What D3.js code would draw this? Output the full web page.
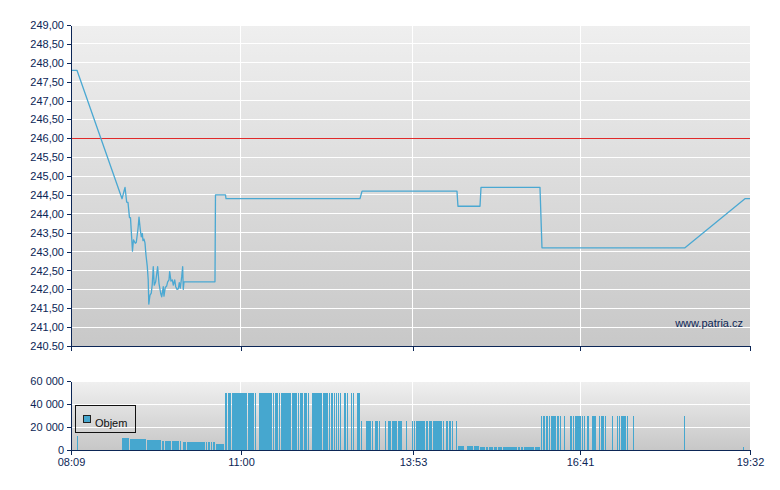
<!DOCTYPE html>
<html><head><meta charset="utf-8">
<script src="https://cdn.jsdelivr.net/npm/d3@7"></script>
<style>body{margin:0;background:#fff}svg{display:block}</style>
</head><body><svg id="c" width="780" height="490"></svg>
<script>
// ---- data ----
const priceTimes = ["08:09:00","08:15:00","09:00:20","09:03:20","09:05:00","09:06:20","09:07:50","09:08:50","09:10:50","09:11:50",
  "09:13:40","09:14:40","09:16:25","09:17:25","09:18:45","09:19:45","09:20:45","09:21:25","09:22:25","09:23:25",
  "09:24:25","09:25:45","09:26:40","09:27:15","09:28:30","09:29:45","09:30:45","09:31:45","09:32:45","09:34:10",
  "09:36:10","09:37:30","09:39:15","09:40:15","09:41:50","09:42:30","09:43:50","09:45:15","09:46:15","09:47:35",
  "09:48:15","09:49:35","09:50:55","09:51:55","09:53:20","09:54:20","09:55:40","09:56:55","09:57:55","09:58:55",
  "10:00:20","10:01:20","10:01:55","10:02:40","10:33:50","10:34:20","10:44:25","10:44:55","12:59:40","13:01:45",
  "14:37:15","14:38:15","15:00:25","15:01:25","16:00:45","16:02:45","18:26:35","19:26:55","19:32:00"];
const priceValues = [247.80,247.80,244.40,244.70,244.31,244.30,243.90,243.90,243.01,243.31,
  243.22,243.24,243.61,243.91,243.57,243.39,243.48,243.29,243.33,243.23,
  242.91,242.60,242.25,241.61,241.85,241.90,242.14,242.60,242.11,242.20,
  242.60,242.16,241.89,241.80,242.07,241.82,242.05,242.09,242.20,242.25,
  242.47,242.22,242.25,242.11,242.25,242.07,242.00,242.01,242.18,242.03,
  242.33,242.60,242.00,242.20,242.20,244.50,244.50,244.40,244.40,244.60,
  244.60,244.20,244.20,244.70,244.70,243.10,243.10,244.40,244.40];
const refPrice = 246.00;

const volTimes = ["08:15","08:16","09:00","09:08","09:25","09:41","09:44","09:51","09:59","10:01",
  "10:02","10:06","10:25","10:27","10:30","10:32","10:35","10:44","10:47","10:51",
  "11:07","11:14","11:16","11:18","11:32","11:34","11:38","11:40","11:51","11:57",
  "11:59","12:03","12:07","12:08","12:11","12:22","12:29","12:31","12:34","12:36",
  "12:38","12:40","12:42","12:44","12:47","12:49","12:51","12:53","12:55","12:57",
  "13:01","13:02","13:06","13:12","13:14","13:15","13:19","13:20","13:25","13:26",
  "13:28","13:32","13:38","13:43","13:46","13:47","13:52","13:54","13:56","14:06",
  "14:09","14:13","14:23","14:24","14:26","14:29","14:32","14:34","14:36","14:38",
  "14:45","14:47","14:54","15:00","15:06","15:09","15:14","15:19","15:24","15:39",
  "15:42","15:45","15:56","16:02","16:04","16:07","16:10","16:12","16:18","16:21",
  "16:23","16:25","16:27","16:31","16:34","16:36","16:43","16:45","16:46","16:48",
  "16:51","16:53","16:58","17:00","17:02","17:06","17:07","17:13","17:15","17:18",
  "17:20","17:22","17:28","17:30","17:34","17:36","18:26","18:27","19:25","19:26"];
const volValues = [12000,0,10400,9600,8700,8100,8100,8100,8100,0,
  7200,7200,7200,7200,7200,7200,5500,50000,50000,50000,
  50000,50000,0,50000,50000,50000,50000,50000,50000,50000,
  50000,50000,50000,0,50000,50000,50000,50000,50000,50000,
  50000,50000,0,50000,50000,0,50000,50000,0,50000,
  25500,0,25500,25500,0,25500,25500,0,25500,0,
  25500,25500,25500,0,25500,0,25500,25500,25500,25500,
  25500,25500,25500,0,25500,25500,25500,0,25500,3500,
  0,3500,3500,2800,2800,2800,2800,2800,2800,2800,
  2800,2800,2800,29700,29700,29700,29700,29700,29700,29700,
  0,29700,0,29700,29700,29700,29700,29700,0,29700,
  0,29700,0,29700,29700,29700,0,29700,0,29700,
  29700,29700,29700,0,29700,0,29700,0,2600,0];

const xTickLabels = ["08:09","11:00","13:53","16:41","19:32"];
const priceTicks = [240.5,241,241.5,242,242.5,243,243.5,244,244.5,245,245.5,246,246.5,247,247.5,248,248.5,249];
const priceTickLabels = ["240.50","241,00","241,50","242,00","242,50","243,00","243,50","244,00","244,50",
  "245,00","245,50","246,00","246,50","247,00","247,50","248,00","248,50","249,00"];
const volTicks = [0,20000,40000,60000];
const volTickLabels = ["0","20 000","40 000","60 000"];
const legendLabel = "Objem";
const watermark = "www.patria.cz";

// ---- drawing ----
const pHMS = d3.timeParse("%H:%M:%S"), pHM = d3.timeParse("%H:%M");
const parseT = s => s.length === 5 ? pHM(s) : pHMS(s);
const navy = "#0c2656", lineBlue = "#4aa8d2", barBlue = "#46a7cf";
const L = 71, R = 750;
const top1 = 25, bot1 = 346, top2 = 381, bot2 = 450;

const svg = d3.select("#c");
const x = d3.scaleTime().domain([parseT("08:09"), parseT("19:32")]).range([L, R]);
const y = d3.scaleLinear().domain([240.5, 249]).range([bot1, top1]);
const yv = d3.scaleLinear().domain([0, 60000]).range([bot2, top2]);
const xTicks = xTickLabels.map(parseT);

const defs = svg.append("defs");
function grad(id, c1, c2) {
  const g = defs.append("linearGradient").attr("id", id).attr("x1", 0).attr("y1", 0).attr("x2", 0).attr("y2", 1);
  g.append("stop").attr("offset", 0).attr("stop-color", c1);
  g.append("stop").attr("offset", 1).attr("stop-color", c2);
}
grad("g1", "#efefef", "#c8c8c8");
grad("g2", "#f0f0f0", "#c7c7c7");

function panel(yS, ticks, gid) {
  const [b, t] = yS.range();
  svg.append("rect").attr("x", L).attr("y", t).attr("width", R - L).attr("height", b - t).attr("fill", `url(#${gid})`);
  const g = svg.append("g").attr("stroke", "#fff").attr("stroke-width", 1).attr("shape-rendering", "crispEdges");
  g.selectAll(".h").data(ticks.slice(1)).join("line")
    .attr("x1", L).attr("x2", R).attr("y1", d => yS(d)).attr("y2", d => yS(d));
  g.selectAll(".v").data(xTicks.slice(1, -1)).join("line")
    .attr("x1", d => x(d)).attr("x2", d => x(d)).attr("y1", t).attr("y2", b);
}
panel(y, priceTicks, "g1");
panel(yv, volTicks, "g2");

// reference line
svg.append("line").attr("x1", L).attr("x2", R).attr("y1", y(refPrice)).attr("y2", y(refPrice))
  .attr("stroke", "#e02a2a").attr("stroke-width", 1).attr("shape-rendering", "crispEdges");

// price line
const pdata = priceTimes.map((t, i) => ({ t: parseT(t), v: priceValues[i] }));
svg.append("path").datum(pdata)
  .attr("d", d3.line().x(d => x(d.t)).y(d => y(d.v)))
  .attr("fill", "none").attr("stroke", lineBlue).attr("stroke-width", 1.3).attr("stroke-linejoin", "round");

// volume bars
const vdata = volTimes.map((t, i) => ({ t: parseT(t), v: volValues[i] }));
const bars = vdata.slice(0, -1).map((d, i) => ({ ...d, next: vdata[i + 1].t })).filter(d => d.v > 0);
svg.append("g").attr("shape-rendering", "crispEdges").selectAll("rect").data(bars).join("rect")
  .attr("x", d => x(d.t))
  .attr("width", d => Math.max(1, x(d.next) - x(d.t) - 1))
  .attr("y", d => yv(d.v))
  .attr("height", d => yv(0) - yv(d.v))
  .attr("fill", barBlue);

// axes
function styleAxis(g) {
  g.attr("color", navy).attr("font-family", "Arial, 'Liberation Sans', sans-serif").attr("font-size", 11);
  g.selectAll("text").attr("fill", navy);
  g.selectAll("line,path").attr("shape-rendering", "crispEdges");
}
svg.append("g").attr("transform", `translate(${L},0)`)
  .call(d3.axisLeft(y).tickValues(priceTicks).tickFormat((d, i) => priceTickLabels[i]).tickSize(4).tickSizeOuter(0).tickPadding(3))
  .call(styleAxis);
svg.append("g").attr("transform", `translate(0,${bot1})`)
  .call(d3.axisBottom(x).tickValues(xTicks).tickFormat("").tickSize(5).tickSizeOuter(0))
  .call(styleAxis);
svg.append("g").attr("transform", `translate(${L},0)`)
  .call(d3.axisLeft(yv).tickValues(volTicks).tickFormat((d, i) => volTickLabels[i]).tickSize(4).tickSizeOuter(0).tickPadding(3))
  .call(styleAxis);
svg.append("g").attr("transform", `translate(0,${bot2})`)
  .call(d3.axisBottom(x).tickValues(xTicks).tickFormat((d, i) => xTickLabels[i]).tickSize(5).tickSizeOuter(0).tickPadding(3))
  .call(styleAxis);

// legend
const lg = svg.append("g").attr("shape-rendering", "crispEdges");
lg.append("rect").attr("x", 75.5).attr("y", 405.5).attr("width", 60).attr("height", 27)
  .attr("fill", "none").attr("stroke", "#111");
lg.append("rect").attr("x", 83.5).attr("y", 415.5).attr("width", 7).attr("height", 7)
  .attr("fill", barBlue).attr("stroke", "#222");
lg.append("text").attr("x", 95).attr("y", 423).attr("dy", "0.32em").text(legendLabel)
  .attr("font-family", "Arial, 'Liberation Sans', sans-serif").attr("font-size", 11).attr("fill", "#111");

// watermark
svg.append("text").attr("x", 743).attr("y", 327).attr("text-anchor", "end").text(watermark)
  .attr("font-family", "Arial, 'Liberation Sans', sans-serif").attr("font-size", 11).attr("fill", navy);
</script></body></html>
